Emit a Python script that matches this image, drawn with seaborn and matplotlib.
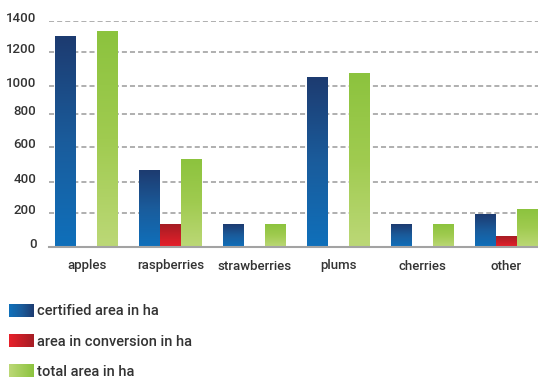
import numpy as np
import pandas as pd
import matplotlib
matplotlib.use("Agg")
import matplotlib.pyplot as plt
import seaborn as sns
from matplotlib.colors import LinearSegmentedColormap
from matplotlib.legend_handler import HandlerBase
from matplotlib.image import BboxImage
from matplotlib.transforms import Bbox, TransformedBbox, ScaledTranslation
from matplotlib.patches import Patch

# ---------------- data ----------------
categories = ["apples", "raspberries", "strawberries", "plums", "cherries", "other"]
certified = [1300, 465, 130, 1050, 130, 190]
conversion = [np.nan, 130, np.nan, np.nan, np.nan, 60]
total = [1330, 530, 135, 1075, 135, 220]
series = ["certified area in ha", "area in conversion in ha", "total area in ha"]
yticks = [0, 200, 400, 600, 800, 1000, 1200, 1400]

rows = []
for name, vals in zip(series, [certified, conversion, total]):
    for c, v in zip(categories, vals):
        if not np.isnan(v):
            rows.append({"crop": c, "series": name, "area": v})
df = pd.DataFrame(rows)

# ---------------- style ----------------
sns.set_theme(style="white")
plt.rcParams["font.family"] = ["Roboto", "DejaVu Sans"]
plt.rcParams["font.weight"] = "medium"
text_color = "#333333"

# gradients (bottom -> top for bars)
bar_cmaps = {
    series[0]: LinearSegmentedColormap.from_list("b", ["#0f70bb", "#1a5c9c", "#1d3b70"]),
    series[1]: LinearSegmentedColormap.from_list("r", ["#e8202a", "#a51d24"]),
    series[2]: LinearSegmentedColormap.from_list("g", ["#bcd877", "#a0cb50", "#8cc33e"]),
}

fig = plt.figure(figsize=(5.38, 3.8), dpi=100)
W, H = 538, 380
ax = fig.add_axes([49 / W, (H - 247) / H, (538 - 49) / W, (247 - 21) / H])

# irregular vertical scale of the original artwork (gridline pixel heights)
grid_px = [0, 34, 65, 100, 133, 161, 195, 226]
vals_ext = [-1400] + yticks + [2800]
px_ext = [-226] + grid_px + [452]
def fwd(v):
    return np.interp(v, vals_ext, px_ext)
def inv(p):
    return np.interp(p, px_ext, vals_ext)
ax.set_yscale("function", functions=(fwd, inv))

sns.barplot(data=df, x="crop", y="area", hue="series", order=categories,
            hue_order=series, width=0.75, dodge=True, legend=False,
            palette=["#1a5a9a", "#c0202a", "#9ccb4e"], saturation=1, ax=ax)

ax.set_ylim(0, 1400)
ax.set_xlim(-0.448, 5.375)
ax.set_autoscale_on(False)
ax.set_yticks(yticks)
ax.set_yticklabels([str(v) for v in yticks])
ax.set_xlabel("")
ax.set_ylabel("")

# grid
ax.set_axisbelow(True)
ax.yaxis.grid(True, color="#9a9a9a", linewidth=1.1, linestyle=(0, (3.3, 2.0)))
ax.xaxis.grid(False)
for s in ["top", "right", "left"]:
    ax.spines[s].set_visible(False)
ax.spines["bottom"].set_color("#a3a3a3")
ax.spines["bottom"].set_linewidth(1.5)
ax.spines["bottom"].set_zorder(5)

ax.tick_params(axis="both", length=0, colors=text_color, labelsize=9.5)
ax.tick_params(axis="y", pad=9)
ax.tick_params(axis="x", pad=9)
offset = ScaledTranslation(0, 4 / 100, fig.dpi_scale_trans)
for lab in ax.get_yticklabels():
    lab.set_transform(lab.get_transform() + offset)

# gradient fill for bars
fig.canvas.draw()
grad = np.linspace(0, 1, 256).reshape(-1, 1)
to_axes = ax.transData + ax.transAxes.inverted()
for cont, name in zip(ax.containers, series):
    for p in cont.patches:
        x0, y0 = p.get_x(), p.get_y()
        w, h = p.get_width(), p.get_height()
        if not np.isfinite(h) or h == 0:
            continue
        (ax0, ay0), (ax1, ay1) = to_axes.transform([(x0, y0), (x0 + w, y0 + h)])
        ax.imshow(grad, cmap=bar_cmaps[name], origin="lower", aspect="auto",
                  extent=[ax0, ax1, ay0, ay1], transform=ax.transAxes,
                  zorder=2, interpolation="bicubic")
        p.set_visible(False)
ax.set_ylim(0, 1400)
ax.set_xlim(-0.448, 5.375)

# legend with horizontal gradient handles
leg_cmaps = {
    series[0]: LinearSegmentedColormap.from_list("lb", ["#0f70bb", "#1a5c9c", "#1d3b70"]),
    series[1]: LinearSegmentedColormap.from_list("lr", ["#e8202a", "#a51d24"]),
    series[2]: LinearSegmentedColormap.from_list("lg", ["#bcd877", "#8cc33e"]),
}

class GradHandler(HandlerBase):
    def __init__(self, cmap):
        super().__init__()
        self.cmap = cmap
    def create_artists(self, legend, orig_handle, xdescent, ydescent, width,
                       height, fontsize, trans):
        bb = TransformedBbox(Bbox.from_bounds(-xdescent, -ydescent, width, height), trans)
        img = BboxImage(bb, cmap=self.cmap, interpolation="bicubic")
        img.set_data(np.linspace(0, 1, 256).reshape(1, -1))
        return [img]

handles = [Patch(label=s) for s in series]
fig.legend(handles=handles, labels=series,
           handler_map={h: GradHandler(leg_cmaps[s]) for h, s in zip(handles, series)},
           loc="upper left", bbox_to_anchor=(9 / W, 1 - 304 / H),
           frameon=False, borderpad=0, borderaxespad=0, fontsize=10.5,
           handlelength=1.7, handleheight=0.95, handletextpad=0.2,
           labelspacing=1.1, labelcolor=text_color)

fig.savefig("out.png", dpi=100)
